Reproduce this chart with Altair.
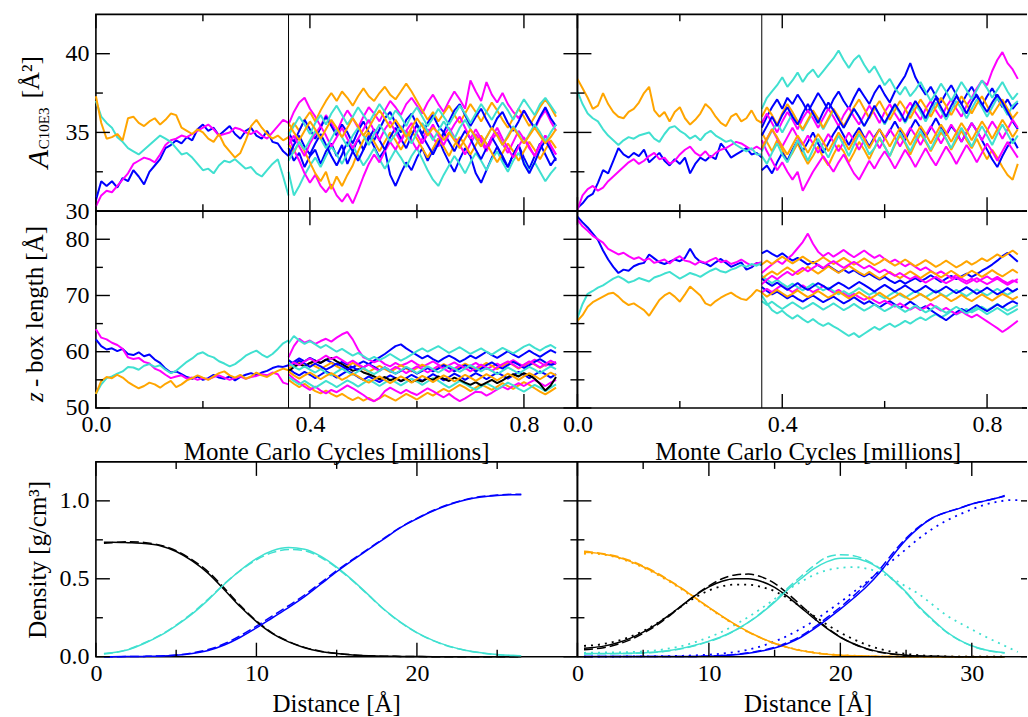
import altair as alt
import pandas as pd

FONT = "Liberation Serif"
BLUE = "#0000ff"
MAGENTA = "#ff00ff"
TURQ = "#40e0d0"
ORANGE = "#ffa500"
BLACK = "#000000"

CYCLE_STEP = 0.01      # millions of MC cycles between stored samples
EQUIL_START = [0.36]   # production runs branch off here

# ---------------- area per molecule, system 1 (left) ----------------
al_pre_blue = [30.7, 31.9, 31.6, 31.9, 31.5, 32.1, 31.9, 32.6, 32.2, 31.7, 32.5, 32.9, 33.3, 34.0, 34.2, 34.5, 34.3, 34.7, 34.5, 35.2,
               35.5, 35.1, 35.3, 34.8, 35.1, 35.4, 34.9, 34.6, 35.1, 35.3, 34.8, 34.6, 35.1, 34.4, 34.3, 33.8, 33.5]
al_pre_magenta = [30.3, 31.0, 31.3, 31.2, 31.6, 32.0, 32.4, 33.0, 33.2, 33.4, 33.3, 33.1, 33.6, 34.2, 34.5, 34.6, 34.8, 34.7, 34.9, 35.1,
                  35.3, 35.5, 35.2, 34.8, 34.9, 35.0, 35.3, 35.2, 35.0, 34.9, 35.1, 34.8, 34.6, 35.0, 35.4, 35.8, 35.6]
al_pre_turq = [37.0, 36.0, 35.6, 35.3, 34.7, 34.4, 34.0, 33.8, 33.6, 33.9, 34.2, 34.5, 34.8, 34.6, 34.4, 34.0, 33.6, 33.7, 33.4, 33.0,
               32.6, 32.7, 32.4, 32.9, 33.2, 33.1, 33.3, 33.0, 32.7, 32.8, 32.4, 32.2, 32.6, 33.0, 33.3, 32.2, 31.0]
al_pre_orange = [37.3, 35.6, 34.6, 34.7, 34.9, 34.5, 35.9, 36.0, 35.6, 35.4, 35.7, 35.9, 35.5, 35.8, 36.2, 36.1, 35.3, 35.1, 34.9, 35.2,
                 35.0, 34.6, 34.4, 34.9, 34.2, 33.8, 33.4, 33.7, 34.5, 35.4, 35.8, 35.3, 34.9, 34.6, 34.8, 34.5, 34.7]

al_blue_1 = [34.0, 33.2, 33.7, 32.8, 33.5, 33.9, 33.0, 33.8, 34.3, 33.5, 34.2, 33.0, 33.8, 34.6, 33.9, 34.8, 34.1, 33.4, 33.9, 32.3,
             31.6, 32.4, 33.1, 32.6, 33.4, 34.0, 33.2, 33.9, 34.6, 33.8, 33.1, 32.5, 33.3, 34.0, 33.5, 32.4, 31.8, 32.6, 33.4, 34.1,
             33.3, 32.8, 33.6, 34.2, 33.4, 32.7, 33.5, 34.3, 33.6, 32.9, 33.4]
al_blue_2 = [35.0, 34.4, 35.1, 35.8, 35.2, 34.6, 35.3, 36.0, 35.4, 34.8, 35.5, 35.0, 34.3, 35.1, 35.7, 35.0, 34.5, 35.2, 35.9, 36.3,
             35.6, 35.0, 35.8, 36.2, 35.5, 34.9, 35.6, 36.1, 35.4, 35.0, 35.7, 36.4, 36.8, 36.1, 35.4, 36.0, 36.5, 35.8, 35.2, 35.9,
             36.3, 35.6, 35.1, 35.7, 36.4, 35.8, 35.3, 36.0, 36.6, 35.9, 35.4]
al_blue_3 = [33.5, 34.2, 34.8, 34.1, 33.6, 34.3, 34.9, 34.2, 33.5, 32.9, 33.6, 34.4, 33.8, 33.2, 33.9, 34.6, 35.2, 34.5, 33.9, 34.7,
             35.3, 34.6, 34.0, 34.8, 35.5, 34.8, 34.2, 33.6, 34.3, 35.0, 34.4, 33.8, 34.5, 35.1, 34.6, 33.9, 33.3, 34.0, 34.7, 34.1,
             33.5, 32.8, 33.6, 34.2, 33.0, 32.4, 33.1, 33.9, 34.5, 33.9, 33.2]
al_magenta_1 = [35.5, 36.3, 36.9, 37.2, 36.5, 36.0, 35.4, 36.1, 35.6, 35.0, 35.8, 36.4, 35.9, 35.3, 36.0, 36.6, 36.2, 35.7, 36.4, 37.0,
                36.6, 36.1, 36.8, 37.2, 36.7, 36.2, 36.9, 37.4, 36.8, 36.3, 37.0, 37.6, 37.1, 36.5, 38.3, 37.6, 37.0, 38.2, 37.4, 36.9,
                37.5, 36.8, 36.3, 35.9, 36.4, 35.8, 35.2, 35.9, 36.4, 35.7, 35.1]
al_magenta_2 = [34.8, 33.9, 33.2, 32.4, 31.8, 32.3, 31.6, 31.2, 31.7, 31.0, 30.6, 31.1, 30.5, 31.3, 32.2, 33.0, 33.6, 33.1, 33.8, 34.4,
                33.9, 34.6, 35.1, 34.5, 33.9, 34.6, 35.2, 34.7, 34.1, 34.8, 35.3, 34.7, 34.2, 33.6, 34.3, 34.9, 34.4, 33.8, 34.5, 35.0,
                34.3, 33.7, 34.4, 35.1, 34.6, 34.0, 33.5, 34.2, 34.8, 34.1, 33.6]
al_magenta_3 = [34.2, 34.8, 34.1, 33.5, 34.3, 34.9, 35.4, 34.8, 34.1, 34.7, 35.3, 34.6, 34.0, 34.6, 35.2, 35.8, 35.1, 34.5, 35.2, 35.7,
                35.0, 34.4, 35.1, 35.6, 34.9, 34.3, 34.9, 35.5, 34.8, 34.2, 34.9, 35.5, 36.0, 35.3, 34.6, 35.2, 34.6, 34.0, 34.7, 35.3,
                34.6, 34.0, 33.4, 34.1, 34.7, 34.1, 33.5, 34.2, 34.8, 34.2, 33.6]
al_turq_1 = [32.5, 31.0, 31.6, 32.3, 32.9, 33.4, 32.8, 33.5, 34.1, 33.6, 33.0, 33.7, 34.2, 33.5, 32.9, 33.4, 34.0, 33.3, 32.7, 33.3,
             33.9, 33.4, 32.8, 33.5, 34.0, 33.3, 32.6, 32.0, 31.6, 32.3, 32.9, 33.5, 33.0, 32.4, 33.1, 33.7, 33.2, 32.6, 33.3, 33.8,
             33.1, 32.5, 33.2, 33.7, 33.1, 32.5, 33.1, 32.5, 31.9, 32.4, 32.8]
al_turq_2 = [34.8, 35.4, 36.0, 35.5, 34.9, 35.6, 36.1, 35.5, 36.2, 36.7, 36.1, 35.5, 36.0, 36.6, 36.1, 35.6, 36.2, 36.8, 36.3, 35.8,
             36.4, 36.0, 35.4, 36.1, 36.6, 36.0, 35.4, 35.9, 36.5, 36.0, 35.5, 36.1, 36.7, 36.2, 35.6, 36.2, 36.8, 36.3, 35.8, 36.4,
             36.9, 36.4, 35.8, 36.5, 37.1, 36.6, 36.1, 36.8, 37.2, 36.7, 36.2]
al_turq_3 = [33.2, 33.8, 34.4, 33.9, 34.5, 35.1, 34.6, 34.0, 34.6, 35.2, 34.7, 34.1, 34.8, 35.3, 34.8, 34.2, 34.9, 35.5, 35.0, 34.4,
             34.9, 35.4, 34.9, 34.3, 35.0, 35.6, 35.1, 34.5, 35.1, 35.7, 35.2, 34.6, 35.3, 35.8, 35.2, 34.6, 34.1, 34.7, 35.3, 34.8,
             34.2, 34.8, 35.4, 34.9, 34.3, 34.9, 35.5, 35.0, 34.4, 35.0, 35.5]
al_orange_1 = [35.0, 35.6, 35.1, 35.8, 36.3, 35.7, 36.4, 37.0, 37.5, 37.0, 37.6, 37.2, 36.7, 37.3, 37.8, 37.3, 37.0, 37.5, 37.9, 37.4,
               37.1, 37.6, 38.1, 37.6, 37.0, 36.4, 35.8, 36.3, 35.7, 36.2, 36.7, 36.1, 35.6, 36.2, 36.8, 36.3, 35.7, 36.3, 36.9, 36.4,
               35.8, 35.3, 35.9, 36.5, 36.0, 35.4, 36.0, 36.6, 37.1, 36.6, 36.0]
al_orange_2 = [34.3, 33.7, 34.4, 33.8, 33.1, 32.4, 31.9, 32.5, 31.4, 32.2, 31.6, 32.3, 32.9, 33.8, 34.5, 35.0, 34.4, 33.8, 34.4, 35.0,
               34.5, 33.9, 34.5, 35.1, 34.6, 34.0, 33.4, 34.0, 34.6, 34.1, 33.5, 34.2, 34.7, 34.2, 33.6, 34.2, 34.8, 34.3, 33.7, 33.1,
               33.7, 34.3, 33.8, 33.2, 33.8, 34.4, 33.9, 33.3, 33.9, 34.5, 34.0]
al_orange_3 = [35.6, 35.0, 34.5, 35.1, 35.7, 35.2, 34.6, 35.2, 35.8, 35.3, 34.7, 35.3, 35.9, 35.4, 34.8, 35.3, 35.9, 36.4, 35.9, 35.3,
               35.8, 35.3, 34.7, 35.3, 35.9, 35.4, 34.8, 35.3, 35.0, 34.5, 35.0, 34.5, 34.0, 34.6, 35.2, 34.7, 34.1, 34.7, 35.3, 34.8,
               34.2, 34.7, 35.3, 34.8, 34.3, 34.8, 35.3, 34.8, 34.3, 34.7, 35.2]

# ---------------- area per molecule, system 2 (right) ----------------
ar_pre_blue = [30.2, 30.5, 30.9, 31.1, 31.8, 32.6, 32.4, 33.2, 34.0, 33.6, 33.4, 33.7, 33.5, 33.9, 33.1, 33.4, 33.7, 33.2, 32.9, 33.3,
               33.0, 33.4, 32.4, 33.0, 33.4, 33.2, 33.5, 33.3, 34.3, 33.9, 33.4, 33.6, 33.8, 34.0, 33.6, 33.7, 33.4]
ar_pre_magenta = [30.1, 31.0, 31.4, 31.6, 31.3, 31.5, 31.9, 32.2, 32.5, 32.8, 33.1, 33.3, 33.0, 33.2, 33.5, 33.7, 33.3, 33.4, 33.0, 33.2,
                  33.6, 33.9, 34.1, 33.7, 33.5, 33.8, 33.4, 33.7, 33.9, 34.0, 34.2, 34.4, 34.3, 34.1, 33.9, 34.1, 33.9]
ar_pre_turq = [37.6, 36.8, 36.2, 35.9, 35.7, 35.2, 34.8, 34.5, 34.2, 34.5, 34.7, 34.6, 34.8, 34.9, 35.0, 34.6, 34.4, 34.9, 35.3, 35.4,
               35.1, 34.9, 34.6, 34.8, 34.5, 34.9, 35.1, 34.8, 34.6, 34.4, 34.5, 34.2, 34.0, 33.8, 34.0, 33.6, 33.6]
ar_pre_orange = [38.4, 37.8, 37.2, 36.5, 36.7, 37.5, 36.8, 36.3, 36.0, 35.9, 36.3, 36.5, 36.9, 37.5, 37.9, 36.4, 36.0, 36.3, 35.7, 36.3,
                 36.6, 35.9, 35.5, 35.8, 36.2, 36.8, 36.5, 36.0, 35.6, 35.4, 36.0, 36.2, 35.7, 35.9, 36.4, 35.8, 35.6]

ar_blue_1 = [35.3, 36.0, 36.6, 37.1, 36.5, 37.2, 36.8, 37.4, 36.9, 36.3, 36.9, 37.5, 37.0, 36.4, 37.1, 37.6, 37.0, 36.5, 37.2, 37.8,
             37.3, 36.8, 37.5, 38.0, 37.4, 36.9, 37.6, 38.1, 38.6, 39.4, 38.5, 37.9, 37.4, 37.9, 37.3, 36.9, 37.5, 38.0, 37.4, 36.8,
             37.4, 37.9, 37.3, 36.7, 37.3, 37.8, 37.2, 36.6, 37.1, 36.5, 36.9]
ar_blue_2 = [32.6, 32.9, 32.4, 33.1, 33.7, 33.2, 33.9, 34.5, 33.8, 34.4, 35.0, 34.3, 33.7, 34.3, 34.9, 35.4, 34.8, 34.2, 34.8, 35.3,
             34.7, 34.1, 34.7, 35.2, 34.6, 35.1, 35.7, 35.1, 34.5, 35.2, 35.8, 35.3, 34.7, 35.3, 35.9, 35.3, 34.8, 35.4, 35.0, 34.4,
             35.0, 35.6, 35.1, 34.5, 33.9, 33.3, 32.8, 33.5, 34.1, 34.6, 34.0]
ar_blue_3 = [34.8, 35.4, 36.0, 35.4, 36.1, 36.6, 36.0, 35.5, 36.2, 36.8, 36.2, 35.6, 36.3, 36.9, 36.4, 35.8, 35.3, 35.9, 36.5, 36.0,
             35.4, 36.0, 36.7, 36.1, 35.6, 36.2, 36.8, 36.3, 35.7, 36.4, 37.0, 36.5, 35.9, 36.6, 37.2, 36.6, 36.0, 36.7, 37.3, 36.8,
             36.2, 36.9, 37.4, 36.8, 36.3, 36.9, 37.4, 36.9, 36.3, 35.7, 35.2]
ar_magenta_1 = [35.6, 36.2, 35.6, 35.0, 35.7, 36.3, 35.8, 35.2, 35.9, 36.4, 35.9, 35.3, 35.9, 36.5, 36.0, 35.4, 36.1, 36.6, 36.0, 35.5,
                36.1, 36.7, 36.2, 35.6, 36.3, 36.8, 36.2, 35.7, 36.4, 36.9, 36.3, 35.8, 36.5, 37.0, 36.4, 35.9, 36.6, 37.1, 36.5, 36.0,
                36.7, 37.2, 37.8, 38.3, 38.0, 38.9, 39.6, 40.1, 39.4, 39.0, 38.4]
ar_magenta_2 = [34.5, 33.8, 33.2, 32.6, 33.1, 32.5, 32.0, 32.5, 31.3, 31.9, 32.5, 33.0, 33.5, 33.0, 32.5, 33.1, 33.6, 33.0, 32.4, 32.0,
                32.6, 33.2, 32.7, 33.3, 33.8, 33.3, 32.7, 33.3, 33.9, 33.4, 32.8, 33.4, 34.0, 33.4, 32.9, 33.5, 34.1, 33.6, 33.0, 33.6,
                34.2, 33.7, 33.1, 33.7, 34.3, 33.8, 33.2, 33.8, 34.4, 33.9, 33.4]
ar_magenta_3 = [34.0, 34.6, 35.2, 34.6, 34.1, 34.7, 35.3, 34.7, 34.2, 34.8, 34.3, 33.7, 34.3, 34.9, 34.4, 33.8, 34.4, 35.0, 34.5, 33.9,
                34.5, 35.1, 34.6, 34.0, 34.6, 35.2, 34.7, 34.1, 34.7, 35.3, 34.8, 34.2, 34.8, 35.4, 34.9, 34.3, 34.9, 35.5, 35.0, 34.4,
                35.0, 35.6, 35.1, 34.5, 35.1, 35.7, 35.2, 34.6, 35.2, 35.8, 35.3]
ar_turq_1 = [36.5, 37.2, 37.6, 38.0, 38.5, 37.9, 38.3, 38.8, 38.2, 38.7, 39.0, 38.5, 38.9, 39.3, 39.7, 40.2, 39.6, 39.1, 39.6, 39.9,
             39.3, 38.8, 39.2, 38.6, 38.0, 38.4, 37.8, 37.4, 37.9, 37.3, 37.7, 38.2, 37.6, 37.0, 37.5, 38.1, 37.6, 37.0, 37.6, 38.2,
             37.7, 37.1, 37.7, 38.3, 37.8, 37.2, 37.7, 38.2, 37.6, 37.1, 37.5]
ar_turq_2 = [33.8, 34.5, 35.1, 35.6, 35.0, 35.6, 36.2, 35.7, 35.1, 35.7, 36.3, 35.8, 35.2, 35.8, 36.4, 35.9, 35.3, 35.9, 36.5, 36.0,
             35.4, 36.0, 36.6, 36.1, 35.5, 36.1, 36.7, 36.2, 35.6, 36.2, 36.8, 36.3, 35.7, 36.3, 36.9, 36.4, 35.8, 36.4, 37.0, 36.5,
             35.9, 36.5, 37.1, 36.6, 36.0, 36.6, 37.2, 36.7, 36.1, 36.7, 37.0]
ar_turq_3 = [33.5, 33.0, 33.7, 34.3, 33.6, 33.1, 33.8, 34.5, 33.9, 33.2, 33.9, 34.6, 34.0, 33.4, 34.1, 34.8, 34.2, 33.5, 34.2, 34.9,
             34.3, 33.6, 34.0, 34.7, 34.1, 33.5, 34.3, 35.0, 34.4, 33.8, 34.5, 35.1, 34.5, 33.9, 34.6, 35.2, 34.6, 34.0, 34.7, 35.3,
             34.7, 34.1, 34.8, 35.4, 34.8, 34.2, 34.9, 35.5, 34.9, 34.3, 34.8]
ar_orange_1 = [35.0, 34.4, 33.8, 34.5, 33.9, 33.2, 33.7, 34.3, 33.6, 33.0, 33.5, 34.1, 33.4, 32.9, 33.6, 34.2, 33.8, 33.1, 33.7, 34.4,
               33.9, 33.3, 34.0, 34.6, 34.1, 33.5, 34.2, 34.8, 34.3, 33.6, 34.3, 34.9, 34.4, 33.8, 34.4, 35.0, 34.6, 33.9, 34.5, 35.1,
               34.5, 34.0, 34.6, 33.9, 33.3, 33.9, 33.4, 32.8, 32.3, 32.0, 33.0]
ar_orange_2 = [36.0, 36.6, 36.1, 35.5, 36.2, 36.8, 36.3, 35.7, 35.2, 35.8, 36.4, 35.9, 35.3, 35.9, 36.5, 36.0, 35.4, 36.0, 36.6, 37.1,
               36.5, 35.9, 36.5, 37.0, 36.4, 35.8, 36.4, 37.0, 36.5, 35.9, 36.5, 37.1, 36.6, 36.0, 36.6, 37.2, 36.7, 36.1, 36.7, 37.3,
               36.8, 36.2, 36.8, 37.3, 36.7, 36.1, 36.6, 37.1, 36.5, 35.9, 36.3]
ar_orange_3 = [34.0, 34.6, 35.2, 34.7, 34.1, 33.6, 34.2, 34.8, 34.3, 33.7, 34.3, 34.9, 34.4, 33.8, 34.4, 35.0, 34.5, 33.9, 34.5, 35.1,
               34.6, 34.0, 34.6, 35.2, 34.7, 34.1, 34.7, 35.3, 34.8, 34.2, 34.8, 35.4, 34.9, 34.3, 34.9, 35.5, 35.0, 34.4, 35.0, 35.6,
               35.1, 34.5, 35.1, 35.7, 35.2, 34.6, 35.2, 35.8, 35.3, 34.7, 35.2]

# ---------------- z box length, system 1 (left) ----------------
zl_pre_blue = [62.2, 61.0, 60.4, 60.6, 60.1, 60.5, 59.6, 59.4, 59.9, 59.2, 59.5, 58.6, 58.0, 57.0, 56.3, 56.5, 56.0, 55.5, 55.2, 55.6,
               55.0, 55.3, 55.9, 55.4, 55.2, 55.6, 54.9, 55.5, 55.9, 56.2, 55.8, 56.3, 56.6, 57.1, 57.4, 57.3, 57.6]
zl_pre_magenta = [64.0, 62.5, 62.2, 61.6, 61.2, 60.5, 59.0, 58.7, 58.9, 58.2, 57.9, 57.0, 56.6, 55.9, 55.3, 55.6, 55.8, 55.2, 55.4, 55.0,
                  55.3, 55.1, 55.5, 55.8, 55.4, 55.0, 55.3, 55.6, 55.2, 55.5, 55.7, 56.0, 55.8, 56.3, 56.0, 54.5, 54.2]
zl_pre_turq = [52.5, 54.2, 55.3, 55.6, 56.1, 56.5, 57.3, 57.2, 56.8, 57.5, 57.8, 57.3, 57.6, 56.8, 56.2, 56.6, 57.4, 58.2, 58.8, 59.6,
               59.9, 59.3, 59.0, 58.3, 57.9, 57.4, 57.8, 58.5, 59.3, 59.8, 60.2, 59.5, 59.0, 59.6, 60.5, 61.5, 62.0]
zl_pre_orange = [52.5, 54.8, 55.5, 55.3, 55.9, 55.4, 54.6, 54.0, 53.5, 53.9, 54.5, 54.2, 53.6, 54.3, 54.8, 53.7, 54.2, 54.9, 55.3, 55.8,
                 55.4, 55.0, 55.6, 56.2, 56.5, 55.8, 55.4, 55.9, 55.2, 55.6, 56.3, 55.8, 55.5, 56.1, 56.6, 57.0, 56.7]

zl_black = [56.5, 57.3, 57.8, 57.4, 58.0, 58.4, 58.0, 58.6, 58.9, 58.3, 57.8, 57.2, 56.6, 56.9, 56.3, 56.0, 55.6, 55.1, 55.5, 54.9,
            55.3, 54.8, 55.2, 54.6, 55.0, 54.7, 55.3, 55.0, 55.6, 55.2, 54.8, 55.4, 55.0, 54.5, 54.1, 54.6, 54.0, 54.5, 55.0, 54.4,
            54.9, 55.5, 56.0, 55.6, 56.2, 55.8, 55.2, 54.3, 53.1, 54.0, 55.5]
zl_blue_1 = [57.5, 58.2, 58.8, 58.3, 58.9, 58.4, 58.0, 58.6, 58.1, 57.6, 58.2, 57.7, 57.2, 57.8, 58.3, 57.8, 58.4, 59.0, 59.6, 60.3,
             61.0, 61.3, 60.6, 60.0, 59.4, 58.8, 59.3, 58.7, 58.2, 58.8, 59.3, 58.8, 58.2, 58.7, 59.3, 58.8, 59.4, 60.0, 59.4, 58.9,
             59.5, 60.1, 59.5, 59.0, 59.6, 60.2, 59.6, 59.1, 59.7, 60.3, 59.8]
zl_blue_2 = [57.0, 56.3, 55.8, 56.4, 55.9, 55.3, 55.9, 56.5, 56.0, 55.4, 56.0, 56.6, 56.1, 55.5, 55.0, 55.6, 55.1, 54.6, 55.2, 55.8,
             55.3, 54.7, 55.3, 55.9, 55.4, 54.8, 55.4, 56.0, 55.5, 54.9, 55.5, 56.1, 55.6, 55.0, 55.6, 56.2, 55.7, 55.1, 55.7, 56.3,
             55.8, 55.2, 55.8, 56.4, 55.9, 55.3, 55.9, 56.5, 56.0, 55.4, 56.0]
zl_blue_3 = [58.5, 57.8, 58.4, 57.9, 57.3, 57.9, 57.4, 56.8, 57.3, 57.9, 57.4, 56.8, 57.3, 56.7, 57.2, 57.8, 57.3, 56.7, 57.2, 56.6,
             56.1, 56.6, 57.2, 56.7, 56.1, 56.6, 57.1, 56.5, 57.0, 57.6, 57.1, 56.5, 57.0, 57.6, 57.1, 56.5, 57.0, 57.6, 58.1, 57.5,
             57.0, 57.6, 58.2, 57.7, 57.1, 57.6, 58.2, 58.7, 58.1, 57.6, 58.0]
zl_magenta_1 = [59.0, 61.0, 62.3, 61.6, 62.0, 61.4, 61.9, 62.3, 61.8, 62.5, 63.1, 63.5, 62.2, 60.4, 59.0, 58.6, 58.1, 58.5, 57.8, 57.4,
                58.0, 57.5, 57.9, 58.4, 57.8, 57.3, 57.8, 58.3, 57.7, 57.2, 57.6, 58.1, 57.5, 57.0, 57.5, 58.0, 57.4, 56.9, 57.4, 57.9,
                57.3, 58.0, 58.5, 57.9, 57.4, 58.0, 58.6, 58.1, 57.5, 57.9, 58.2]
zl_magenta_2 = [56.0, 55.2, 54.5, 53.8, 53.2, 53.8, 53.1, 52.6, 53.2, 52.8, 53.4, 54.0, 53.5, 52.9, 52.3, 51.6, 51.2, 51.8, 53.0, 53.6,
                53.1, 52.6, 53.2, 52.7, 52.3, 52.9, 53.5, 53.0, 52.4, 51.9, 52.5, 51.8, 51.2, 51.7, 52.3, 52.9, 52.8, 52.2, 52.7, 53.3,
                53.8, 53.3, 53.9, 54.4, 53.9, 54.5, 55.0, 54.4, 53.9, 54.5, 55.0]
zl_magenta_3 = [57.5, 58.1, 57.6, 58.3, 58.8, 58.2, 58.7, 59.3, 58.7, 59.1, 58.5, 57.9, 58.4, 57.8, 57.2, 57.7, 57.1, 56.6, 57.2, 56.7,
                57.3, 56.8, 56.2, 56.8, 57.4, 56.9, 56.3, 56.9, 57.5, 57.0, 56.4, 57.0, 57.6, 57.1, 56.5, 57.1, 57.7, 57.2, 56.6, 57.2,
                57.8, 58.3, 57.7, 57.1, 57.7, 58.3, 57.8, 57.2, 57.8, 58.4, 57.9]
zl_turq_1 = [61.5, 62.8, 62.0, 61.4, 61.9, 61.3, 60.7, 61.2, 60.6, 60.0, 60.5, 59.9, 59.3, 59.8, 59.2, 58.6, 59.1, 58.5, 59.0, 59.6,
             59.0, 58.4, 58.9, 59.5, 60.1, 60.6, 60.0, 60.5, 61.0, 60.4, 59.8, 60.3, 60.8, 60.2, 59.6, 60.1, 60.6, 60.0, 59.5, 60.1,
             60.7, 60.2, 59.7, 60.3, 60.9, 61.3, 60.7, 60.2, 60.8, 61.2, 60.6]
zl_turq_2 = [55.5, 54.8, 54.2, 54.8, 54.2, 53.6, 54.2, 54.8, 54.3, 53.7, 54.3, 54.9, 54.4, 53.8, 54.4, 55.0, 54.5, 53.9, 54.5, 55.1,
             54.6, 54.0, 54.6, 55.2, 54.7, 54.1, 54.7, 55.3, 54.8, 54.2, 53.6, 54.2, 54.8, 54.3, 53.7, 53.2, 53.8, 54.4, 53.9, 53.3,
             53.9, 54.5, 54.0, 53.4, 52.9, 53.5, 54.1, 53.6, 53.0, 53.6, 54.2]
zl_turq_3 = [58.0, 57.3, 56.8, 57.4, 56.8, 56.3, 56.9, 56.3, 55.8, 56.4, 57.0, 56.4, 55.9, 56.5, 57.1, 56.5, 56.0, 56.6, 57.2, 56.6,
             56.1, 56.7, 57.3, 56.8, 56.2, 56.8, 57.4, 56.9, 56.3, 56.9, 57.5, 57.0, 56.4, 57.0, 57.6, 57.1, 56.5, 57.1, 56.6, 56.0,
             56.6, 57.2, 56.7, 56.1, 56.7, 57.3, 56.8, 56.2, 56.8, 57.4, 56.9]
zl_orange_1 = [55.0, 54.3, 53.7, 54.3, 53.6, 53.0, 52.6, 53.1, 52.5, 52.0, 52.5, 51.9, 51.4, 51.9, 51.3, 51.8, 51.2, 51.7, 52.3, 51.8,
               51.3, 51.9, 52.5, 52.0, 51.5, 52.1, 52.7, 52.2, 52.8, 53.4, 52.9, 53.5, 54.1, 53.6, 53.0, 53.6, 54.2, 53.7, 53.2, 53.8,
               54.4, 53.9, 53.4, 54.0, 54.6, 54.1, 53.5, 52.9, 52.4, 53.0, 53.6]
zl_orange_2 = [57.0, 57.6, 58.1, 57.5, 58.0, 57.4, 56.9, 57.5, 58.0, 57.4, 56.9, 57.4, 58.0, 57.5, 56.9, 56.4, 57.0, 57.5, 56.9, 56.4,
               57.0, 57.6, 57.0, 56.5, 57.1, 57.7, 57.2, 56.6, 57.2, 57.8, 57.3, 56.7, 57.3, 57.9, 57.4, 56.8, 57.4, 58.0, 57.5, 56.9,
               57.5, 58.1, 57.6, 57.0, 57.6, 58.2, 57.7, 57.1, 57.7, 58.3, 57.8]
zl_orange_3 = [56.5, 55.8, 55.2, 55.8, 56.3, 55.7, 55.1, 55.7, 56.2, 55.6, 55.0, 55.5, 56.1, 55.6, 55.0, 54.5, 55.1, 55.6, 55.0, 54.4,
               55.0, 55.6, 55.1, 54.5, 55.1, 55.7, 55.2, 54.6, 55.2, 55.8, 55.3, 54.7, 55.3, 55.9, 55.4, 54.8, 55.4, 56.0, 55.5, 54.9,
               55.5, 56.1, 55.6, 55.0, 55.6, 56.2, 55.7, 55.1, 55.7, 56.3, 55.8]

# ---------------- z box length, system 2 (right) ----------------
zr_pre_blue = [84.0, 83.0, 82.1, 81.0, 79.9, 78.0, 76.4, 75.1, 74.0, 74.6, 74.4, 75.2, 75.6, 75.8, 77.3, 76.6, 75.9, 75.6, 76.0, 76.4,
               76.1, 76.7, 78.3, 76.8, 76.0, 75.7, 75.2, 75.9, 76.5, 75.8, 75.1, 75.5, 75.9, 74.6, 75.0, 75.8, 75.4]
zr_pre_magenta = [83.5, 82.3, 81.5, 80.6, 80.0, 79.4, 78.3, 77.8, 77.3, 77.6, 77.0, 76.5, 76.8, 76.2, 76.6, 75.8, 76.1, 76.4, 75.7, 76.5,
                  77.0, 76.2, 76.0, 75.5, 76.1, 75.8, 76.3, 76.7, 75.9, 76.2, 75.6, 75.9, 76.4, 75.8, 75.3, 75.7, 75.9]
zr_pre_turq = [66.0, 68.5, 70.3, 70.8, 71.4, 71.8, 72.4, 73.0, 73.4, 72.9, 72.3, 72.6, 73.1, 72.8, 72.5, 73.2, 73.5, 73.9, 74.2, 73.6,
               73.0, 73.5, 74.0, 73.7, 73.3, 73.9, 74.4, 74.8, 74.3, 74.1, 74.6, 74.9, 75.4, 75.1, 75.6, 75.3, 75.8]
zr_pre_orange = [65.5, 66.5, 68.0, 68.8, 69.3, 69.8, 70.3, 70.5, 69.8, 68.9, 68.3, 68.6, 68.0, 67.4, 66.4, 67.8, 69.2, 70.0, 70.5, 69.8,
                 68.9, 70.2, 71.6, 70.8, 70.0, 68.6, 68.2, 69.0, 69.6, 70.1, 70.5, 69.9, 69.4, 69.2, 70.0, 71.0, 70.6]

zr_blue_1 = [77.5, 78.0, 77.4, 76.9, 77.5, 76.8, 76.2, 76.7, 76.1, 75.5, 76.0, 75.4, 74.8, 75.3, 74.7, 74.1, 74.6, 74.0, 74.5, 73.9,
             73.4, 73.9, 73.3, 72.8, 73.3, 72.7, 72.2, 72.7, 72.1, 72.6, 73.1, 72.5, 73.0, 73.6, 73.0, 72.4, 73.0, 73.5, 72.9, 73.4,
             73.9, 73.3, 73.8, 74.4, 74.9, 75.5, 76.2, 77.0, 77.6, 76.8, 76.0]
zr_blue_2 = [71.5, 70.8, 70.2, 70.7, 70.1, 69.5, 70.0, 69.4, 68.9, 69.5, 70.0, 69.4, 68.8, 69.3, 69.8, 69.2, 68.6, 69.1, 69.7, 69.1,
             68.5, 69.0, 68.4, 67.9, 68.5, 69.0, 68.4, 67.8, 68.3, 68.9, 68.3, 67.6, 68.1, 67.4, 66.8, 66.2, 65.6, 66.3, 67.0, 67.6,
             67.1, 67.7, 68.3, 67.7, 67.2, 67.8, 68.4, 67.9, 68.5, 69.0, 68.5]
zr_blue_3 = [73.0, 72.3, 71.7, 72.3, 71.6, 71.0, 71.6, 72.2, 71.5, 71.0, 71.6, 72.2, 71.7, 71.1, 71.7, 72.3, 71.8, 71.2, 71.8, 72.4,
             71.9, 71.3, 70.7, 71.3, 71.9, 71.3, 70.7, 71.2, 71.8, 71.2, 70.6, 71.1, 71.7, 71.1, 70.5, 71.0, 71.6, 71.0, 70.4, 70.9,
             71.5, 70.9, 70.3, 70.8, 71.4, 70.8, 70.2, 70.7, 71.3, 70.7, 71.2]
zr_magenta_1 = [74.0, 74.8, 75.5, 76.2, 75.6, 76.5, 77.3, 78.4, 79.5, 81.0, 79.2, 77.8, 77.0, 77.6, 76.9, 77.5, 78.1, 77.4, 76.8, 77.4,
                78.0, 77.3, 76.7, 77.2, 76.5, 75.9, 76.4, 75.8, 75.2, 75.7, 75.1, 74.5, 75.0, 74.4, 73.8, 74.3, 73.7, 73.1, 73.6, 73.0,
                72.5, 73.0, 72.4, 72.9, 73.4, 72.8, 73.3, 72.7, 72.2, 72.7, 72.3]
zr_magenta_2 = [70.5, 71.2, 70.6, 71.3, 71.9, 71.2, 70.6, 71.2, 71.8, 71.2, 70.6, 71.1, 71.7, 71.1, 70.5, 71.0, 70.4, 69.8, 70.3, 69.7,
                69.2, 69.7, 69.1, 68.6, 69.1, 68.5, 68.0, 68.6, 68.0, 67.5, 68.0, 67.4, 67.9, 68.5, 67.9, 67.3, 67.8, 67.2, 66.7, 67.2,
                66.6, 66.1, 66.6, 66.0, 65.4, 64.8, 64.2, 63.5, 64.1, 64.8, 65.5]
zr_magenta_3 = [72.0, 72.8, 73.5, 72.9, 73.6, 74.2, 73.6, 74.3, 74.9, 74.3, 74.9, 75.5, 74.9, 75.6, 76.1, 75.5, 74.9, 75.5, 76.0, 75.4,
                74.8, 75.3, 74.7, 74.1, 74.6, 74.0, 73.5, 74.0, 73.4, 72.9, 73.4, 72.8, 72.3, 72.8, 73.3, 72.7, 72.2, 72.7, 73.2, 72.6,
                72.1, 72.6, 73.1, 72.5, 72.0, 72.5, 73.0, 72.4, 71.9, 72.4, 72.9]
zr_turq_1 = [70.0, 68.6, 67.4, 66.8, 67.3, 66.5, 65.9, 66.5, 65.8, 65.2, 65.8, 65.1, 64.6, 65.1, 64.5, 64.0, 63.4, 62.8, 63.3, 62.6,
             63.2, 63.8, 64.4, 63.9, 64.5, 65.0, 64.4, 64.9, 65.5, 65.0, 65.6, 66.1, 65.6, 66.2, 66.7, 66.1, 66.6, 67.2, 66.6, 67.1,
             67.6, 67.0, 67.5, 68.0, 67.4, 67.9, 68.5, 67.9, 67.3, 67.8, 68.3]
zr_turq_2 = [73.5, 72.8, 72.2, 72.8, 72.1, 71.5, 72.1, 71.5, 70.9, 71.5, 72.1, 71.5, 70.9, 71.4, 70.8, 70.2, 70.8, 70.2, 70.7, 71.3,
             70.7, 70.1, 70.6, 70.0, 69.5, 70.1, 70.7, 70.1, 69.6, 70.2, 70.8, 70.2, 69.7, 70.3, 70.9, 70.3, 69.8, 70.4, 71.0, 70.4,
             69.9, 70.5, 71.1, 70.5, 70.0, 70.6, 71.2, 70.6, 70.1, 70.7, 71.2]
zr_turq_3 = [69.0, 68.3, 68.9, 68.2, 67.6, 68.2, 68.8, 68.2, 67.6, 68.1, 68.7, 68.1, 67.5, 68.0, 68.6, 68.0, 67.4, 67.9, 68.5, 67.9,
             67.3, 67.8, 68.4, 67.8, 67.2, 67.7, 68.3, 67.7, 67.1, 67.6, 68.2, 67.6, 67.0, 67.5, 68.1, 67.5, 66.9, 67.4, 68.0, 67.4,
             66.8, 67.3, 67.9, 67.3, 66.7, 67.2, 67.8, 67.2, 66.6, 67.1, 67.6]
zr_orange_1 = [75.5, 76.2, 75.6, 76.3, 76.9, 76.3, 75.7, 76.3, 76.9, 76.3, 75.7, 76.2, 76.8, 76.2, 75.6, 76.1, 76.7, 76.1, 75.5, 76.0,
               76.6, 76.0, 75.4, 75.9, 76.5, 75.9, 75.3, 75.8, 76.4, 75.8, 75.2, 75.7, 76.3, 75.7, 75.1, 75.6, 76.2, 75.6, 75.0, 75.5,
               76.1, 75.5, 76.0, 76.6, 76.1, 76.7, 77.3, 76.8, 77.4, 78.0, 77.3]
zr_orange_2 = [73.0, 73.7, 74.3, 73.7, 74.4, 75.0, 74.4, 73.8, 74.4, 75.1, 74.5, 73.9, 74.5, 75.2, 74.6, 74.0, 74.6, 75.3, 74.7, 74.1,
               73.6, 74.2, 73.6, 73.0, 73.6, 74.2, 73.6, 73.1, 73.7, 74.3, 73.7, 73.1, 73.7, 74.3, 73.8, 73.2, 73.8, 74.4, 73.8, 73.2,
               73.8, 74.4, 73.9, 73.3, 73.9, 74.5, 73.9, 73.4, 74.0, 74.6, 74.0]
zr_orange_3 = [70.5, 69.8, 70.4, 71.0, 70.4, 69.8, 70.3, 70.9, 70.3, 69.7, 70.2, 70.8, 70.2, 69.6, 70.1, 70.7, 70.1, 69.5, 70.0, 70.6,
               70.0, 69.4, 69.9, 70.5, 69.9, 69.3, 69.8, 70.4, 69.8, 69.2, 69.7, 70.3, 69.7, 69.1, 69.6, 70.2, 69.6, 69.0, 69.5, 70.1,
               69.5, 69.0, 69.6, 70.2, 69.6, 69.1, 69.7, 70.3, 69.8, 69.3, 69.8]

# ---------------- density profiles ----------------
dist_left = [0.5, 1, 2, 3, 4, 5, 6, 7, 8, 9, 10, 11, 12, 13, 14, 15, 16, 17, 18, 19, 20, 21, 22, 23, 24, 25, 26, 26.5]
dl_black = [0.735, 0.735, 0.732, 0.727, 0.712, 0.675, 0.615, 0.535, 0.43, 0.32, 0.225, 0.148, 0.095, 0.058, 0.034, 0.02, 0.011,
            0.006, 0.003, 0.002, 0.001, 0.0, 0.0, 0.0, 0.0, 0.0, 0.0, 0.0]
dl_black_b = [0.728, 0.732, 0.738, 0.733, 0.716, 0.68, 0.622, 0.545, 0.44, 0.328, 0.23, 0.152, 0.098, 0.06, 0.035, 0.021, 0.012,
              0.006, 0.003, 0.002, 0.001, 0.0, 0.0, 0.0, 0.0, 0.0, 0.0, 0.0]
dl_turq = [0.02, 0.025, 0.045, 0.085, 0.135, 0.2, 0.275, 0.365, 0.465, 0.555, 0.63, 0.68, 0.7, 0.69, 0.645, 0.575, 0.49, 0.395,
           0.3, 0.22, 0.155, 0.105, 0.068, 0.042, 0.025, 0.014, 0.008, 0.006]
dl_turq_b = [0.018, 0.024, 0.047, 0.088, 0.138, 0.203, 0.28, 0.37, 0.468, 0.553, 0.622, 0.668, 0.688, 0.68, 0.638, 0.57, 0.486,
             0.392, 0.298, 0.218, 0.153, 0.103, 0.066, 0.041, 0.024, 0.013, 0.007, 0.005]
dl_blue = [0.0, 0.0, 0.001, 0.002, 0.004, 0.009, 0.02, 0.04, 0.075, 0.125, 0.185, 0.25, 0.315, 0.385, 0.465, 0.545, 0.62, 0.69,
           0.76, 0.83, 0.885, 0.935, 0.975, 1.005, 1.025, 1.035, 1.04, 1.04]
dl_blue_b = [0.0, 0.0, 0.001, 0.002, 0.005, 0.011, 0.024, 0.046, 0.083, 0.135, 0.196, 0.262, 0.327, 0.396, 0.474, 0.552, 0.625,
             0.694, 0.764, 0.832, 0.888, 0.938, 0.978, 1.008, 1.028, 1.037, 1.042, 1.042]

dist_right = [0.5, 1, 2, 3, 4, 5, 6, 7, 8, 9, 10, 11, 12, 13, 14, 15, 16, 17, 18, 19, 20, 21, 22, 23, 24, 25, 26, 27, 28, 29, 30,
              31, 32, 32.5]
dist_right_c = [0.5, 1, 2, 3, 4, 5, 6, 7, 8, 9, 10, 11, 12, 13, 14, 15, 16, 17, 18, 19, 20, 21, 22, 23, 24, 25, 26, 27, 28, 29, 30,
                31, 32, 33, 33.5]
dr_orange = [0.67, 0.668, 0.658, 0.64, 0.612, 0.577, 0.535, 0.487, 0.433, 0.375, 0.316, 0.26, 0.207, 0.16, 0.12, 0.086, 0.06,
             0.04, 0.026, 0.016, 0.01, 0.006, 0.004, 0.002, 0.001, 0, 0, 0, 0, 0, 0, 0, 0, 0]
dr_orange_b = [0.676, 0.672, 0.66, 0.644, 0.617, 0.582, 0.54, 0.49, 0.435, 0.376, 0.316, 0.259, 0.205, 0.158, 0.118, 0.085, 0.059,
               0.039, 0.025, 0.015, 0.009, 0.005, 0.003, 0.002, 0.001, 0, 0, 0, 0, 0, 0, 0, 0, 0]
dr_orange_c = [0.66, 0.664, 0.655, 0.636, 0.608, 0.572, 0.53, 0.482, 0.428, 0.37, 0.312, 0.256, 0.204, 0.158, 0.119, 0.086, 0.06,
               0.041, 0.027, 0.017, 0.011, 0.007, 0.004, 0.002, 0.001, 0, 0, 0, 0, 0, 0, 0, 0, 0]
dr_black = [0.055, 0.058, 0.068, 0.088, 0.118, 0.158, 0.208, 0.268, 0.333, 0.395, 0.448, 0.484, 0.5, 0.5, 0.483, 0.445, 0.385,
            0.315, 0.245, 0.18, 0.125, 0.083, 0.052, 0.031, 0.018, 0.01, 0.005, 0.003, 0.001, 0, 0, 0, 0, 0]
dr_black_b = [0.045, 0.048, 0.058, 0.078, 0.108, 0.15, 0.2, 0.262, 0.33, 0.398, 0.455, 0.5, 0.525, 0.53, 0.512, 0.47, 0.405,
              0.33, 0.255, 0.185, 0.127, 0.083, 0.05, 0.029, 0.016, 0.008, 0.004, 0.002, 0.0, 0, 0, 0, 0, 0]
dr_black_c = [0.07, 0.072, 0.082, 0.1, 0.128, 0.165, 0.212, 0.268, 0.328, 0.382, 0.425, 0.452, 0.463, 0.462, 0.448, 0.42, 0.375,
              0.32, 0.262, 0.205, 0.155, 0.112, 0.077, 0.05, 0.031, 0.018, 0.01, 0.005, 0.002, 0, 0, 0, 0, 0]
dr_turq = [0.02, 0.02, 0.02, 0.021, 0.022, 0.025, 0.03, 0.04, 0.055, 0.075, 0.1, 0.13, 0.17, 0.22, 0.28, 0.35, 0.43, 0.5, 0.565,
           0.61, 0.632, 0.632, 0.61, 0.565, 0.495, 0.415, 0.32, 0.24, 0.165, 0.11, 0.07, 0.045, 0.03, 0.025]
dr_turq_b = [0.018, 0.018, 0.019, 0.02, 0.021, 0.024, 0.029, 0.038, 0.052, 0.072, 0.097, 0.127, 0.168, 0.22, 0.283, 0.356, 0.44,
             0.515, 0.585, 0.64, 0.655, 0.648, 0.618, 0.567, 0.492, 0.41, 0.315, 0.235, 0.162, 0.108, 0.069, 0.044, 0.029, 0.024]
dr_turq_c = [0.025, 0.026, 0.027, 0.028, 0.03, 0.034, 0.041, 0.053, 0.07, 0.095, 0.125, 0.16, 0.205, 0.255, 0.31, 0.37, 0.43,
             0.48, 0.525, 0.555, 0.57, 0.575, 0.565, 0.54, 0.5, 0.45, 0.4, 0.335, 0.27, 0.22, 0.175, 0.13, 0.09, 0.05, 0.03]
dr_blue = [0.001, 0.001, 0.001, 0.001, 0.001, 0.001, 0.001, 0.001, 0.001, 0.002, 0.003, 0.007, 0.013, 0.022, 0.036, 0.056, 0.085,
           0.125, 0.178, 0.24, 0.305, 0.375, 0.45, 0.54, 0.65, 0.75, 0.83, 0.89, 0.925, 0.95, 0.98, 1.0, 1.02, 1.03]
dr_blue_b = [0.001, 0.001, 0.001, 0.001, 0.001, 0.001, 0.001, 0.001, 0.001, 0.002, 0.004, 0.008, 0.015, 0.025, 0.04, 0.061, 0.092,
             0.133, 0.188, 0.252, 0.318, 0.39, 0.47, 0.56, 0.665, 0.76, 0.835, 0.89, 0.925, 0.952, 0.98, 1.0, 1.02, 1.035]
dr_blue_c = [0.001, 0.001, 0.001, 0.001, 0.002, 0.002, 0.003, 0.004, 0.006, 0.009, 0.013, 0.02, 0.03, 0.045, 0.068, 0.098, 0.135,
             0.18, 0.23, 0.29, 0.35, 0.415, 0.48, 0.55, 0.62, 0.69, 0.76, 0.82, 0.87, 0.91, 0.945, 0.975, 0.995, 1.005, 1.005]

# ---------------- axis ticks ----------------
cycle_major, cycle_minor = [0, 0.4, 0.8], [0.2, 0.6]
area_major, area_minor = [30, 35, 40], [32.5, 37.5]
boxz_major, boxz_minor = [50, 60, 70, 80], [55, 65, 75]
dens_major, dens_minor = [0, 0.5, 1.0], [0.25, 0.75]
dist_major_l, dist_major_r, dist_minor = [0, 10, 20], [0, 10, 20, 30], [5, 15, 25]

# ---------------- layout (px) ----------------
W_LEFT, W_RIGHT = 482, 450
H_TOP, H_BOT, H_GAP = 197, 195, 54
MAJOR, MINOR = 14, 7
FRAME_W = 1.6

AX_X = dict(ticks=False, domain=False, grid=False, title=None, labelPadding=5, labelFlush=False,
            labelOverlap=False, labelFont=FONT, labelFontSize=24, labelColor="black", labelAngle=0)
AX_Y = dict(AX_X, labelPadding=7)


def runs_frame(runs):
    rows = []
    for k, (color, start, vals) in enumerate(runs):
        for i, v in enumerate(vals):
            rows.append({"x": round(start + i * CYCLE_STEP, 4), "y": v, "run": k, "c": color})
    return pd.DataFrame(rows)


def curves_frame(curves):
    rows = []
    for k, (color, xs, ys) in enumerate(curves):
        for x, y in zip(xs, ys):
            rows.append({"x": x, "y": y, "curve": k, "c": color})
    return pd.DataFrame(rows)


def values(vals):
    return alt.Data(values=[{"v": v} for v in vals])


def tick_layers(xenc, yenc, w, h, xmaj, xmin, ymaj, ymin, right_stub=None):
    layers = []
    for vals, L in ((ymaj, MAJOR), (ymin, MINOR)):
        base = alt.Chart(values(vals)).mark_rule(color="black", strokeWidth=1.4)
        layers.append(base.encode(y=yenc("v"), x=alt.value(0), x2=alt.value(L)))
        r = L if right_stub is None else (right_stub if L == MAJOR else 0)
        if r:
            layers.append(base.encode(y=yenc("v"), x=alt.value(w - r), x2=alt.value(w)))
    for vals, L in ((xmaj, MAJOR), (xmin, MINOR)):
        base = alt.Chart(values(vals)).mark_rule(color="black", strokeWidth=1.4)
        layers.append(base.encode(x=xenc("v"), y=alt.value(h - L), y2=alt.value(h)))
        layers.append(base.encode(x=xenc("v"), y=alt.value(0), y2=alt.value(L)))
    return layers


def open_frame(w, h):
    """Top, bottom and left edges of a panel whose right edge runs off the page."""
    base = alt.Chart(values([0])).mark_rule(color="black", strokeWidth=FRAME_W)
    return [
        base.encode(x=alt.value(0), x2=alt.value(w), y=alt.value(0), y2=alt.value(0)),
        base.encode(x=alt.value(0), x2=alt.value(w), y=alt.value(h), y2=alt.value(h)),
        base.encode(x=alt.value(0), x2=alt.value(0), y=alt.value(0), y2=alt.value(h)),
    ]


def text(t, x, y, size=25, italic=False, angle=0, align="center", baseline="alphabetic"):
    return alt.Chart(alt.Data(values=[{"t": t}])).mark_text(
        font=FONT, fontSize=size, fontStyle="italic" if italic else "normal", angle=angle,
        align=align, baseline=baseline, color="black"
    ).encode(text="t:N", x=alt.value(x), y=alt.value(y))


def encoders(xdom, ydom, xaxis, yaxis):
    xs = alt.Scale(domain=xdom, nice=False, zero=False)
    ys = alt.Scale(domain=ydom, nice=False, zero=False)

    def xenc(field):
        return alt.X(f"{field}:Q", scale=xs, axis=xaxis)

    def yenc(field):
        return alt.Y(f"{field}:Q", scale=ys, axis=yaxis)
    return xenc, yenc


def finish(layers, w, h, open_right):
    if open_right:
        return alt.layer(*(layers + open_frame(w, h))).properties(
            width=w, height=h, view=alt.ViewBackground(stroke=None))
    return alt.layer(*layers).properties(width=w, height=h)


def mc_panel(runs, xmax, ydom, w, ymaj, ymin, show_x, show_y, open_right, extra):
    xaxis = alt.Axis(values=cycle_major, format=".1f", **AX_X) if show_x else None
    yaxis = alt.Axis(values=ymaj, format="d", **AX_Y) if show_y else None
    xenc, yenc = encoders([0, xmax], ydom, xaxis, yaxis)
    lines = alt.Chart(runs_frame(runs)).mark_line(strokeWidth=2, strokeJoin="bevel").encode(
        x=xenc("x"), y=yenc("y"), color=alt.Color("c:N", scale=None), detail="run:N")
    start = alt.Chart(values(EQUIL_START)).mark_rule(color="black", strokeWidth=1).encode(
        x=xenc("v"), y=alt.value(0), y2=alt.value(H_TOP))
    stub = 5 if open_right else None
    layers = [lines, start] + tick_layers(xenc, yenc, w, H_TOP, cycle_major, cycle_minor, ymaj, ymin, stub) + extra
    return finish(layers, w, H_TOP, open_right)


def density_panel(groups, xmax, w, xmaj, show_y, open_right, extra):
    xaxis = alt.Axis(values=xmaj, format="d", **AX_X)
    yaxis = alt.Axis(values=dens_major, format=".1f", **AX_Y) if show_y else None
    xenc, yenc = encoders([0, xmax], [0, 1.25], xaxis, yaxis)
    layers = []
    for curves, dash, sw in groups:
        mk = dict(strokeWidth=sw, interpolate="monotone")
        if dash:
            mk["strokeDash"] = dash
        layers.append(alt.Chart(curves_frame(curves)).mark_line(**mk).encode(
            x=xenc("x"), y=yenc("y"), color=alt.Color("c:N", scale=None), detail="curve:N"))
    stub = 6 if open_right else None
    layers += tick_layers(xenc, yenc, w, H_BOT, xmaj, dist_minor, dens_major, dens_minor, stub) + extra
    return finish(layers, w, H_BOT, open_right)


def spacer(w):
    return alt.Chart(values([0])).mark_rect(opacity=0).encode(
        x=alt.value(0), x2=alt.value(1), y=alt.value(0), y2=alt.value(1)
    ).properties(width=w, height=H_GAP, view=alt.ViewBackground(stroke=None))


S = EQUIL_START[0]

runs_al = [(BLUE, 0, al_pre_blue), (MAGENTA, 0, al_pre_magenta), (TURQ, 0, al_pre_turq), (ORANGE, 0, al_pre_orange),
           (BLUE, S, al_blue_1), (MAGENTA, S, al_magenta_1), (TURQ, S, al_turq_1), (ORANGE, S, al_orange_1),
           (BLUE, S, al_blue_2), (MAGENTA, S, al_magenta_2), (TURQ, S, al_turq_2), (ORANGE, S, al_orange_2),
           (BLUE, S, al_blue_3), (MAGENTA, S, al_magenta_3), (TURQ, S, al_turq_3), (ORANGE, S, al_orange_3)]
runs_ar = [(BLUE, 0, ar_pre_blue), (MAGENTA, 0, ar_pre_magenta), (TURQ, 0, ar_pre_turq), (ORANGE, 0, ar_pre_orange),
           (BLUE, S, ar_blue_1), (MAGENTA, S, ar_magenta_1), (TURQ, S, ar_turq_1), (ORANGE, S, ar_orange_1),
           (BLUE, S, ar_blue_2), (MAGENTA, S, ar_magenta_2), (TURQ, S, ar_turq_2), (ORANGE, S, ar_orange_2),
           (BLUE, S, ar_blue_3), (MAGENTA, S, ar_magenta_3), (TURQ, S, ar_turq_3), (ORANGE, S, ar_orange_3)]
runs_zl = [(BLUE, 0, zl_pre_blue), (MAGENTA, 0, zl_pre_magenta), (TURQ, 0, zl_pre_turq), (ORANGE, 0, zl_pre_orange),
           (BLUE, S, zl_blue_1), (MAGENTA, S, zl_magenta_1), (TURQ, S, zl_turq_1), (ORANGE, S, zl_orange_1),
           (BLUE, S, zl_blue_2), (MAGENTA, S, zl_magenta_2), (TURQ, S, zl_turq_2), (ORANGE, S, zl_orange_2),
           (BLACK, S, zl_black),
           (BLUE, S, zl_blue_3), (MAGENTA, S, zl_magenta_3), (TURQ, S, zl_turq_3), (ORANGE, S, zl_orange_3)]
runs_zr = [(BLUE, 0, zr_pre_blue), (MAGENTA, 0, zr_pre_magenta), (TURQ, 0, zr_pre_turq), (ORANGE, 0, zr_pre_orange),
           (BLUE, S, zr_blue_1), (MAGENTA, S, zr_magenta_1), (TURQ, S, zr_turq_1), (ORANGE, S, zr_orange_1),
           (BLUE, S, zr_blue_2), (MAGENTA, S, zr_magenta_2), (TURQ, S, zr_turq_2), (ORANGE, S, zr_orange_2),
           (BLUE, S, zr_blue_3), (MAGENTA, S, zr_magenta_3), (TURQ, S, zr_turq_3), (ORANGE, S, zr_orange_3)]

# invisible box that pins the figure origin (room for the y labels and titles)
origin_pin = alt.Chart(values([0])).mark_rect(opacity=0).encode(
    x=alt.value(-95), x2=alt.value(-94), y=alt.value(-13), y2=alt.value(-12))

area_title = [
    text("A", -48, 154, size=30, italic=True, angle=270, align="left"),
    text("C10E3", -47, 135, size=15, angle=270, align="left"),
    text("[Å²]", -57, 84, size=25, angle=270, align="left"),
]
boxz_title = [
    text("z", -53, 191, italic=True, angle=270, align="left"),
    text("-", -53, 176, angle=270, align="left"),
    text("box length [Å]", -53, 162, angle=270, align="left"),
]

p_al = mc_panel(runs_al, 0.9, [30, 42.5], W_LEFT, area_major, area_minor, False, True, False,
                [origin_pin] + area_title)
p_ar = mc_panel(runs_ar, 0.878, [30, 42.5], W_RIGHT, area_major, area_minor, False, False, True, [])
p_zl = mc_panel(runs_zl, 0.9, [50, 85], W_LEFT, boxz_major, boxz_minor, True, True, False,
                boxz_title + [text("Monte Carlo Cycles [millions]", 241, 249)])
p_zr = mc_panel(runs_zr, 0.878, [50, 85], W_RIGHT, boxz_major, boxz_minor, True, False, True,
                [text("Monte Carlo Cycles [millions]", 231, 249)])

DASH, DOT = [9, 4], [2, 5]
d_left = density_panel(
    [([(BLACK, dist_left, dl_black_b), (TURQ, dist_left, dl_turq_b), (BLUE, dist_left, dl_blue_b)], DASH, 1.5),
     ([(BLACK, dist_left, dl_black), (TURQ, dist_left, dl_turq), (BLUE, dist_left, dl_blue)], None, 1.5)],
    30, W_LEFT, dist_major_l, True, False,
    [text("Density [g/cm³]", -50, 98, angle=270), text("Distance [Å]", 241, 250)])
d_right = density_panel(
    [([(ORANGE, dist_right, dr_orange_c), (BLACK, dist_right, dr_black_c), (TURQ, dist_right_c, dr_turq_c),
       (BLUE, dist_right_c, dr_blue_c)], DOT, 1.8),
     ([(ORANGE, dist_right, dr_orange_b), (BLACK, dist_right, dr_black_b), (TURQ, dist_right, dr_turq_b),
       (BLUE, dist_right, dr_blue_b)], DASH, 1.5),
     ([(ORANGE, dist_right, dr_orange), (BLACK, dist_right, dr_black), (TURQ, dist_right, dr_turq),
       (BLUE, dist_right, dr_blue)], None, 1.5)],
    34.2, W_RIGHT, dist_major_r, False, True,
    [text("Distance [Å]", 231, 250)])

chart = alt.concat(
    p_al, p_ar, p_zl, p_zr, spacer(W_LEFT), spacer(W_RIGHT), d_left, d_right,
    columns=2, spacing=0, bounds="flush",
).properties(padding=0, background="white").configure_view(stroke="black", strokeWidth=FRAME_W)

chart.save("out.html", embed_options={"renderer": "svg", "actions": False})
